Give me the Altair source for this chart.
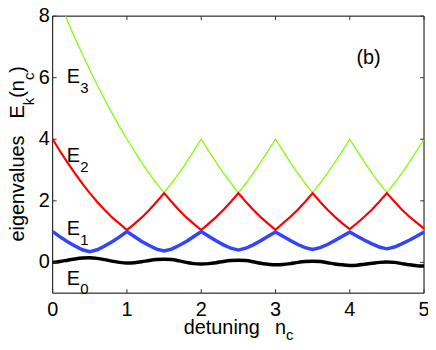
import altair as alt
import pandas as pd

# detuning grid (step 0.1 from 0 to 5)
nc = [i / 10 for i in range(51)]

E0 = [0.00, 0.03, 0.07, 0.11, 0.14, 0.15, 0.13, 0.09, 0.04, 0.00,
      -0.02, -0.01, 0.02, 0.06, 0.09, 0.10, 0.09, 0.05, 0.00, -0.04,
      -0.05, -0.04, -0.01, 0.03, 0.06, 0.07, 0.06, 0.02, -0.03, -0.06,
      -0.08, -0.07, -0.04, 0.00, 0.03, 0.04, 0.03, -0.01, -0.05, -0.08,
      -0.10, -0.09, -0.06, -0.03, 0.00, 0.01, 0.00, -0.04, -0.08, -0.11,
      -0.12]

E1 = [1.00, 0.83, 0.67, 0.53, 0.41, 0.35, 0.41, 0.53, 0.67, 0.83,
      1.00, 0.84, 0.68, 0.55, 0.43, 0.37, 0.43, 0.55, 0.68, 0.84,
      1.00, 0.85, 0.70, 0.57, 0.46, 0.40, 0.46, 0.57, 0.70, 0.85,
      0.99, 0.85, 0.71, 0.58, 0.48, 0.42, 0.48, 0.58, 0.71, 0.85,
      0.99, 0.85, 0.72, 0.60, 0.50, 0.44, 0.50, 0.60, 0.72, 0.85,
      0.99]

E2 = [4.00, 3.61, 3.24, 2.89, 2.56, 2.25, 1.96, 1.70, 1.46, 1.26,
      1.05, 1.25, 1.46, 1.70, 1.97, 2.25, 1.97, 1.70, 1.46, 1.25,
      1.05, 1.26, 1.47, 1.71, 1.97, 2.25, 1.97, 1.71, 1.47, 1.26,
      1.06, 1.27, 1.48, 1.71, 1.97, 2.25, 1.97, 1.71, 1.48, 1.27,
      1.08, 1.28, 1.49, 1.72, 1.98, 2.25, 1.98, 1.72, 1.49, 1.29,
      1.10]

E3 = [9.00, 8.41, 7.84, 7.29, 6.76, 6.25, 5.76, 5.29, 4.84, 4.41,
      4.00, 3.61, 3.24, 2.89, 2.56, 2.26, 2.57, 2.90, 3.25, 3.62,
      4.00, 3.62, 3.25, 2.90, 2.57, 2.26, 2.57, 2.90, 3.25, 3.62,
      4.00, 3.62, 3.25, 2.90, 2.57, 2.26, 2.57, 2.90, 3.25, 3.62,
      4.00, 3.62, 3.25, 2.90, 2.57, 2.26, 2.57, 2.90, 3.25, 3.62,
      4.00]

x_ticks = [0, 1, 2, 3, 4, 5]
y_ticks = [0, 2, 4, 6, 8]

label_main = ["E", "E", "E", "E"]
label_sub = ["3", "2", "1", "0"]
label_x = [0.19, 0.19, 0.19, 0.19]
label_y = [5.82, 3.27, 0.88, -0.72]
sub_x = [0.37, 0.37, 0.37, 0.37]
sub_y = [5.50, 2.95, 0.56, -1.04]

W, H = 374, 279
FONT = "Liberation Sans"

df = pd.DataFrame({"nc": nc, "E0": E0, "E1": E1, "E2": E2, "E3": E3})

xs = alt.Scale(domain=[0, 5], nice=False, zero=False)
ys = alt.Scale(domain=[-1, 8], nice=False, zero=False)

def X(f):
    return alt.X(f, scale=xs, axis=None)

def Y(f):
    return alt.Y(f, scale=ys, axis=None)

base = alt.Chart(df)

def curve(col, color, width, clip=False, interp="linear"):
    return base.mark_line(color=color, strokeWidth=width, clip=clip, interpolate=interp).encode(
        x=X("nc:Q"), y=Y(f"{col}:Q"))

one = pd.DataFrame({"a": [0]})

layers = [
    # plot frame
    alt.Chart(one).mark_rect(fill="white", stroke="black", strokeWidth=1).encode(
        x=alt.value(0), x2=alt.value(W), y=alt.value(0), y2=alt.value(H)),
    curve("E3", "#80ff00", 1.3, clip=True),
    curve("E2", "#ff0000", 2.2),
    curve("E1", "#3344ff", 3.5),
    curve("E0", "#000000", 3.5, interp="monotone"),
]

# inward ticks on all four sides + tick labels
xt = alt.Chart(pd.DataFrame({"nc": x_ticks}))
yt = alt.Chart(pd.DataFrame({"E3": y_ticks}))
tc = "#333333"
layers += [
    xt.mark_rule(color=tc, strokeWidth=1).encode(x=X("nc:Q"), y=alt.value(H), y2=alt.value(H - 4)),
    xt.mark_rule(color=tc, strokeWidth=1).encode(x=X("nc:Q"), y=alt.value(0), y2=alt.value(4)),
    yt.mark_rule(color=tc, strokeWidth=1).encode(y=Y("E3:Q"), x=alt.value(0), x2=alt.value(4)),
    yt.mark_rule(color=tc, strokeWidth=1).encode(y=Y("E3:Q"), x=alt.value(W), x2=alt.value(W - 4)),
    xt.mark_text(font=FONT, fontSize=20, align="center", baseline="top", color="black").encode(
        x=X("nc:Q"), y=alt.value(H + 7), text=alt.Text("nc:Q", format="d")),
    yt.mark_text(font=FONT, fontSize=20, align="right", baseline="middle", color="black").encode(
        y=Y("E3:Q"), x=alt.value(-3), text=alt.Text("E3:Q", format="d")),
]

# curve labels
lab = pd.DataFrame({"nc": label_x, "E3": label_y, "t": label_main})
sub = pd.DataFrame({"nc": sub_x, "E3": sub_y, "t": label_sub})
layers.append(alt.Chart(lab).mark_text(font=FONT, fontSize=20, align="left", baseline="alphabetic", color="black").encode(
    x=X("nc:Q"), y=Y("E3:Q"), text="t:N"))
layers.append(alt.Chart(sub).mark_text(font=FONT, fontSize=15, align="left", baseline="alphabetic", color="black").encode(
    x=X("nc:Q"), y=Y("E3:Q"), text="t:N"))

# panel tag
tag = pd.DataFrame({"nc": [4.09], "E3": [6.44], "t": ["(b)"]})
layers.append(alt.Chart(tag).mark_text(font=FONT, fontSize=20, align="left", baseline="alphabetic", color="black").encode(
    x=X("nc:Q"), y=Y("E3:Q"), text="t:N"))


def ptext(s, size, px, py, angle=0):
    kw = dict(font=FONT, fontSize=size, align="left", baseline="alphabetic", color="black", text=s)
    if angle:
        kw["angle"] = angle
    return alt.Chart(one).mark_text(**kw).encode(x=alt.value(px), y=alt.value(py))

# x axis title with subscript
layers += [
    ptext("detuning", 20, 132, 320),
    ptext("n", 20, 224, 320),
    ptext("c", 15, 235, 326),
]
# y axis title with subscripts (rotated)
layers += [
    ptext("eigenvalues", 20, -29, 227, 270),
    ptext("E", 20, -29, 103, 270),
    ptext("k", 15, -19, 89.7, 270),
    ptext("(n", 20, -29, 82.2, 270),
    ptext("c", 15, -19, 64.4, 270),
    ptext(")", 20, -29, 56.9, 270),
]

chart = alt.layer(*layers).properties(
    width=W, height=H,
    autosize="none",
    background="white",
    padding={"left": 45, "top": 7, "right": 4, "bottom": 48},
).configure_view(stroke=None)

chart.save("out.html", embed_options={"renderer": "svg", "actions": False})
